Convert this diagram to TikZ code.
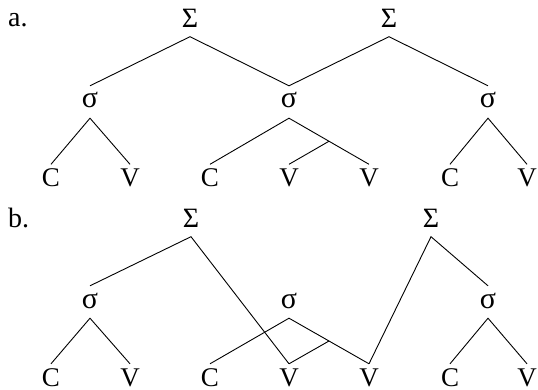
\documentclass[tikz,border=0pt]{standalone}
\usepackage{fontspec}
\setmainfont{Liberation Serif}
\usetikzlibrary{positioning}

\begin{document}
\begin{tikzpicture}[x=1pt,y=-1pt,
    foot/.style={anchor=base,inner sep=0pt,text depth=8.5pt,font=\fontsize{28}{28}\selectfont},
    syl/.style={anchor=base,inner sep=0pt,text height=22pt,text depth=10pt,font=\fontsize{30}{30}\selectfont},
    seg/.style={anchor=base,inner sep=0pt,text height=22pt,text depth=0pt,font=\fontsize{27}{27}\selectfont},
    lbl/.style={anchor=base west,inner sep=0pt,font=\fontsize{28}{28}\selectfont},
    br/.style={line width=0.9pt}
  ]
  \useasboundingbox (0,0) rectangle (538,390);
  % a. feet over syllables
  \node[lbl] (la) at (8,27) {a.};
  \node[foot] (aF1) at (190,28) {Σ};
  \node[foot] (aF2) at (389,28) {Σ};
  \node[syl] (aS1) at (90,108) {σ};
  \node[syl] (aS2) at (289,108) {σ};
  \node[syl] (aS3) at (488,108) {σ};
  \node[seg] (aC1) at (51,186.5) {C};
  \node[seg] (aV1) at (130,186.5) {V};
  \node[seg] (aC2) at (210,186.5) {C};
  \node[seg] (aV2) at (289,186.5) {V};
  \node[seg] (aV3) at (369,186.5) {V};
  \node[seg] (aC3) at (450,186.5) {C};
  \node[seg] (aV4) at (527,186.5) {V};
  \draw[br] (aS1.north) -- (aF1.south) -- (aS2.north) -- (aF2.south) -- (aS3.north);
  \draw[br] (aC1.north) -- (aS1.south) -- (aV1.north);
  \draw[br] (aC2.north) -- (aS2.south) -- (aV3.north) coordinate[pos=.5] (aM);
  \draw[br] (aM) -- (aV2.north);
  \draw[br] (aC3.north) -- (aS3.south) -- (aV4.north);
  % b. feet linked to segments
  \node[lbl] (lb) at (8,228) {b.};
  \node[foot] (bF1) at (191,228) {Σ};
  \node[foot] (bF2) at (431,228) {Σ};
  \node[syl] (bS1) at (90,308) {σ};
  \node[syl] (bS2) at (289,308) {σ};
  \node[syl] (bS3) at (488,308) {σ};
  \node[seg] (bC1) at (51,386) {C};
  \node[seg] (bV1) at (130,386) {V};
  \node[seg] (bC2) at (210,386) {C};
  \node[seg] (bV2) at (289,386) {V};
  \node[seg] (bV3) at (369,386) {V};
  \node[seg] (bC3) at (450,386) {C};
  \node[seg] (bV4) at (527,386) {V};
  \draw[br] (bS1.north) -- (bF1.south) -- (bV2.north);
  \draw[br] (bV3.north) -- (bF2.south) -- (bS3.north);
  \draw[br] (bC1.north) -- (bS1.south) -- (bV1.north);
  \draw[br] (bC2.north) -- (bS2.south) -- (bV3.north) coordinate[pos=.5] (bM);
  \draw[br] (bM) -- (bV2.north);
  \draw[br] (bC3.north) -- (bS3.south) -- (bV4.north);
\end{tikzpicture}
\end{document}
